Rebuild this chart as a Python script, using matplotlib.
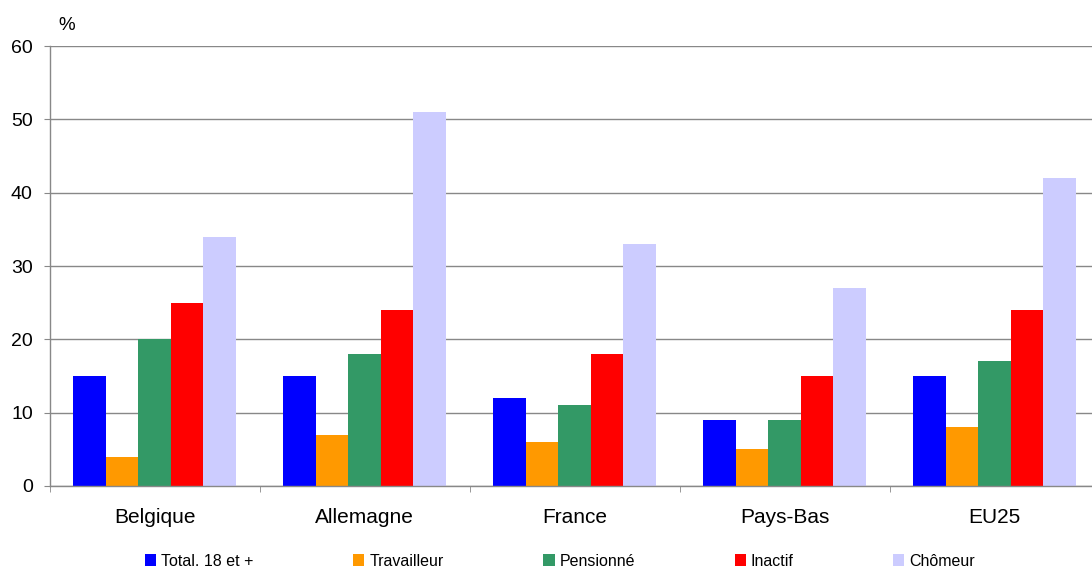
import numpy as np
import matplotlib.pyplot as plt

plt.rcParams['font.family'] = ['Liberation Sans', 'DejaVu Sans']

# poverty risk by activity status, per country
countries = ['Belgique', 'Allemagne', 'France', 'Pays-Bas', 'EU25']
series = ['Total. 18 et +', 'Travailleur', 'Pensionné', 'Inactif', 'Chômeur']
values = {
    'Total. 18 et +': [15, 15, 12, 9, 15],
    'Travailleur': [4, 7, 6, 5, 8],
    'Pensionné': [20, 18, 11, 9, 17],
    'Inactif': [25, 24, 18, 15, 24],
    'Chômeur': [34, 51, 33, 27, 42],
}
colors = ['#0000FF', '#FF9900', '#339966', '#FF0000', '#CCCCFF']

fig = plt.figure(figsize=(10.92, 5.67), dpi=100)
ax = fig.add_axes([49.5 / 1092, 81 / 567, 1050 / 1092, 440 / 567])

x = np.arange(len(countries))
width = 0.155
for i, (name, col) in enumerate(zip(series, colors)):
    offs = (i - 2) * width
    ax.bar(x + offs, values[name], width, color=col, label=name, zorder=3)

ax.set_xlim(-0.5, len(countries) - 0.5)
ax.set_ylim(0, 60)
ax.set_yticks(range(0, 61, 10))
ax.yaxis.grid(True, color='#888888', linewidth=1, zorder=0)
ax.tick_params(axis='y', labelsize=14, length=4, color='#888888', pad=8)

ax.set_xticks(x)
ax.set_xticklabels(countries)
ax.set_xticks(np.arange(-0.5, len(countries), 1), minor=True)
ax.tick_params(axis='x', which='major', length=0, labelsize=15, pad=16)
ax.tick_params(axis='x', which='minor', length=4, color='#888888')

for s in ['top', 'right']:
    ax.spines[s].set_visible(False)
for s in ['left', 'bottom']:
    ax.spines[s].set_color('#888888')
    ax.spines[s].set_linewidth(1)
ax.spines['bottom'].set_zorder(4)

fig.text(58 / 1092, 1 - 25 / 567, '%', fontsize=13.5, va='center', ha='left')

fig.legend(loc='center', bbox_to_anchor=(560 / 1092, 1 - 561 / 567), ncol=5,
           frameon=False, fontsize=11.5, handlelength=0.7, handleheight=0.7,
           handletextpad=0.3, columnspacing=6.25)

fig.savefig('out.png', dpi=100)
